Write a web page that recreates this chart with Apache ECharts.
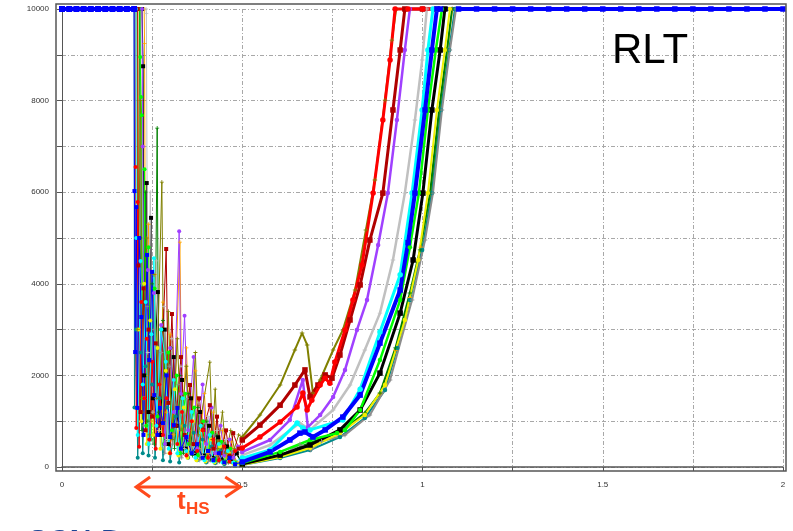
<!DOCTYPE html>
<html><head><meta charset="utf-8">
<script src="https://cdn.jsdelivr.net/npm/echarts@6/dist/echarts.min.js"></script>
<style>html,body{margin:0;padding:0;background:#fff}#c{width:793px;height:531px}</style>
</head><body><div id="c"></div>
<script>
// ---------- axis ticks ----------
const X_TICKS = [0, 0.25, 0.5, 0.75, 1, 1.25, 1.5, 1.75, 2];
const X_LABELS = ['0', '', '0.5', '', '1', '', '1.5', '', '2'];
const Y_TICKS = [0, 1000, 2000, 3000, 4000, 5000, 6000, 7000, 8000, 9000, 10000];
const Y_LABELS = ['0', '', '2000', '', '4000', '', '6000', '', '8000', '', '10000'];

// ---------- series data [x, y] ----------
const blueHead = [[0,10000],[0.02,10000],[0.04,10000],[0.06,10000],[0.08,10000],[0.1,10000],[0.12,10000],[0.14,10000],[0.16,10000],[0.18,10000],[0.2,10000]];
const blueNoise = [[0.2,10000],[0.201,6025],[0.203,2510],[0.206,5675],[0.209,1290],[0.214,5000],[0.22,3275],[0.226,700],[0.236,4630],[0.242,2335],[0.25,4260],[0.256,1570],[0.265,700],[0.272,1290],[0.28,960],[0.29,2000],[0.3,655],[0.31,915],[0.32,1290],[0.33,400],[0.345,655],[0.36,300],[0.375,500],[0.39,200],[0.405,350],[0.42,150],[0.435,300],[0.45,100],[0.465,200],[0.48,60],[0.5,110]];
const blueRise = [[0.5,110],[0.577,330],[0.632,590],[0.66,740],[0.674,765],[0.696,655],[0.73,810],[0.779,1090],[0.827,1570],[0.882,2705],[0.938,3865],[0.96,4900],[0.979,5980],[1.007,7795],[1.026,9105],[1.04,10000],[1.05,10000],[1.1,10000],[1.15,10000],[1.2,10000],[1.25,10000],[1.3,10000],[1.35,10000],[1.4,10000],[1.45,10000],[1.5,10000],[1.55,10000],[1.6,10000],[1.65,10000],[1.7,10000],[1.75,10000],[1.8,10000],[1.85,10000],[1.9,10000],[1.95,10000],[2,10000]];

const redNoise = [[0.203,10000],[0.204,6550],[0.206,850],[0.21,5785],[0.214,440],[0.22,3600],[0.228,1500],[0.235,2800],[0.242,600],[0.25,2300],[0.26,400],[0.27,1800],[0.28,700],[0.29,1500],[0.3,300],[0.31,1900],[0.32,500],[0.333,1200],[0.345,250],[0.36,1000],[0.375,350],[0.39,800],[0.405,200],[0.42,600],[0.435,150],[0.45,450],[0.465,120],[0.48,350],[0.5,415]];
const redRise = [[0.5,415],[0.549,655],[0.605,980],[0.652,1310],[0.668,1615],[0.68,1245],[0.693,1460],[0.716,1790],[0.73,1940],[0.743,1830],[0.757,2290],[0.785,2990],[0.807,3645],[0.832,4410],[0.863,5980],[0.89,7575],[0.91,8885],[0.924,10000],[0.96,10000],[1.0,10000],[1.04,10000]];

const darkredNoise = [[0.21,10000],[0.212,4400],[0.218,1200],[0.226,3900],[0.232,800],[0.24,3000],[0.25,1100],[0.26,2700],[0.27,900],[0.289,4760],[0.295,1400],[0.305,3340],[0.315,900],[0.33,2400],[0.34,700],[0.355,1790],[0.365,500],[0.38,1500],[0.392,810],[0.41,1350],[0.42,400],[0.43,1100],[0.44,300],[0.455,800],[0.465,250],[0.475,740],[0.49,400],[0.5,590]];
const darkredRise = [[0.5,590],[0.549,915],[0.605,1350],[0.646,1790],[0.674,2120],[0.688,1530],[0.71,1790],[0.73,2010],[0.749,1940],[0.771,2445],[0.799,3210],[0.827,3975],[0.854,4955],[0.89,5980],[0.918,7795],[0.938,9105],[0.951,10000],[1.0,10000],[1.04,10000]];

const purpleNoise = [[0.222,10000],[0.224,7000],[0.228,1500],[0.238,4300],[0.244,600],[0.255,3800],[0.262,900],[0.275,3100],[0.285,500],[0.3,2600],[0.31,1200],[0.325,5150],[0.33,1600],[0.34,3300],[0.35,800],[0.365,2400],[0.375,400],[0.39,1800],[0.4,500],[0.415,1300],[0.425,300],[0.44,900],[0.45,250],[0.465,600],[0.475,200],[0.488,450],[0.5,330]];
const purpleRise = [[0.5,330],[0.577,590],[0.632,1025],[0.668,1900],[0.682,870],[0.716,1135],[0.752,1530],[0.785,2120],[0.818,2990],[0.846,3645],[0.877,4845],[0.904,5980],[0.929,7575],[0.951,9105],[0.965,10000],[1.0,10000],[1.04,10000]];

const orangeNoise = [[0.228,10000],[0.229,9250],[0.232,2000],[0.24,5300],[0.248,1000],[0.258,4200],[0.268,800],[0.28,3600],[0.29,1200],[0.3,2900],[0.31,700],[0.327,4910],[0.333,900],[0.345,2600],[0.355,500],[0.37,2100],[0.38,400],[0.395,1600],[0.405,300],[0.42,1200],[0.43,250],[0.445,800],[0.455,200],[0.47,550],[0.48,150],[0.5,70]];
const orangeRise = [[0.5,70],[0.605,240],[0.688,470],[0.771,720],[0.84,1150],[0.882,1600],[0.925,2550],[0.965,3700],[0.995,4800],[1.022,5980],[1.047,7795],[1.069,9105],[1.083,10000]];

const oliveNoise = [[0.208,10000],[0.21,3000],[0.218,8000],[0.224,1200],[0.235,5000],[0.242,700],[0.255,4200],[0.262,1500],[0.277,6220],[0.283,1000],[0.295,3400],[0.305,600],[0.32,2800],[0.33,800],[0.345,2200],[0.355,500],[0.37,2500],[0.378,700],[0.41,2290],[0.417,600],[0.425,1700],[0.432,400],[0.445,1200],[0.455,300],[0.468,800],[0.478,400],[0.49,700],[0.5,655]];
const oliveRise = [[0.5,655],[0.549,1135],[0.605,1790],[0.646,2555],[0.666,2925],[0.68,2665],[0.696,1615],[0.716,1900],[0.752,2555],[0.779,2990],[0.813,3865],[0.843,5175],[0.868,6265],[0.896,8010],[0.915,9320],[0.927,10000]];

const silverNoise = [[0.233,10000],[0.234,9900],[0.238,2500],[0.245,6000],[0.252,1200],[0.262,4500],[0.27,800],[0.283,3500],[0.292,600],[0.305,2800],[0.315,900],[0.33,2200],[0.34,400],[0.355,1800],[0.365,300],[0.38,1400],[0.39,250],[0.405,1100],[0.415,200],[0.43,800],[0.44,150],[0.455,600],[0.465,120],[0.48,400],[0.5,260]];
const silverRise = [[0.5,260],[0.577,480],[0.66,960],[0.688,810],[0.752,1245],[0.799,1790],[0.84,2555],[0.882,3360],[0.918,4520],[0.951,5980],[0.979,7575],[0.999,8885],[1.012,10000],[1.04,10000]];

const cyanNoise = [[0.205,10000],[0.206,5000],[0.21,700],[0.218,4500],[0.224,1800],[0.232,3600],[0.24,500],[0.248,2900],[0.255,4560],[0.262,900],[0.275,3000],[0.288,2300],[0.296,400],[0.31,1900],[0.32,300],[0.335,1500],[0.345,350],[0.36,1200],[0.37,200],[0.385,900],[0.395,150],[0.41,700],[0.42,120],[0.435,500],[0.445,100],[0.46,350],[0.475,100],[0.5,195]];
const cyanRise = [[0.5,195],[0.577,370],[0.652,960],[0.668,850],[0.688,810],[0.779,1025],[0.827,1700],[0.882,2950],[0.938,4200],[0.971,5980],[0.999,7795],[1.015,9105],[1.029,10000],[1.04,10000]];

const limeNoise = [[0.216,10000],[0.217,8950],[0.219,8080],[0.221,7680],[0.224,1500],[0.229,6500],[0.234,900],[0.24,4800],[0.247,600],[0.257,3900],[0.265,1100],[0.275,3000],[0.283,500],[0.295,2500],[0.305,800],[0.318,2000],[0.328,300],[0.342,1600],[0.352,500],[0.367,1300],[0.377,250],[0.392,1000],[0.402,200],[0.417,750],[0.427,150],[0.442,550],[0.452,120],[0.467,400],[0.48,100],[0.5,85]];
const limeRise = [[0.5,85],[0.605,330],[0.688,590],[0.763,740],[0.785,810],[0.827,1245],[0.882,2335],[0.938,3645],[0.965,4800],[0.99,5980],[1.015,7795],[1.037,9105],[1.054,10000]];

const blackNoise = [[0.222,10000],[0.225,8750],[0.228,2000],[0.235,6200],[0.24,1200],[0.247,5440],[0.252,1500],[0.266,3820],[0.272,700],[0.285,3000],[0.295,500],[0.31,2400],[0.318,900],[0.333,1900],[0.343,400],[0.358,1500],[0.368,300],[0.383,1200],[0.393,250],[0.408,900],[0.418,200],[0.433,650],[0.443,150],[0.458,450],[0.47,120],[0.485,300],[0.5,65]];
const blackRise = [[0.5,65],[0.605,260],[0.688,480],[0.771,810],[0.827,1245],[0.882,2050],[0.938,3360],[0.974,4520],[1.001,5980],[1.026,7795],[1.049,9105],[1.062,10000]];

const yellowNoise = [[0.21,10000],[0.212,3000],[0.22,1000],[0.228,4000],[0.235,500],[0.245,3200],[0.253,700],[0.265,2600],[0.273,400],[0.288,2100],[0.298,300],[0.313,1700],[0.323,250],[0.338,1300],[0.348,200],[0.363,1000],[0.373,150],[0.388,800],[0.398,120],[0.413,600],[0.423,100],[0.438,450],[0.448,80],[0.463,300],[0.475,70],[0.5,45]];
const yellowRise = [[0.5,45],[0.605,220],[0.688,415],[0.771,740],[0.84,1135],[0.896,1790],[0.951,3210],[0.988,4520],[1.015,5980],[1.04,7795],[1.062,9105],[1.076,10000]];

const darkgreenNoise = [[0.215,10000],[0.217,5000],[0.222,800],[0.232,6000],[0.238,1000],[0.25,4000],[0.256,500],[0.264,7400],[0.268,1200],[0.28,3200],[0.29,600],[0.303,2600],[0.312,400],[0.327,2000],[0.337,300],[0.352,1600],[0.362,250],[0.377,1300],[0.387,200],[0.402,1000],[0.412,150],[0.427,700],[0.437,120],[0.452,500],[0.462,100],[0.477,350],[0.5,85]];
const darkgreenRise = [[0.5,85],[0.605,260],[0.688,525],[0.771,765],[0.84,1180],[0.882,1615],[0.925,2600],[0.965,3800],[0.993,4740],[1.021,5980],[1.046,7795],[1.068,9105],[1.082,10000]];

const tealNoise = [[0.2,10000],[0.201,1300],[0.205,3000],[0.21,200],[0.218,2500],[0.224,300],[0.232,2200],[0.24,250],[0.25,1800],[0.258,200],[0.27,1500],[0.28,150],[0.292,1300],[0.3,120],[0.315,1100],[0.325,100],[0.34,900],[0.35,200],[0.365,750],[0.375,150],[0.39,600],[0.4,100],[0.415,450],[0.425,80],[0.44,350],[0.45,60],[0.465,250],[0.48,50],[0.5,45]];
const tealRise = [[0.5,45],[0.605,195],[0.688,370],[0.771,655],[0.84,1070],[0.896,1680],[0.93,2600],[0.965,3645],[0.999,4740],[1.026,5980],[1.051,7795],[1.074,9105],[1.09,10000]];

const greyNoise = [[0.218,10000],[0.22,4000],[0.226,900],[0.236,3500],[0.243,500],[0.255,3000],[0.262,700],[0.276,2500],[0.285,300],[0.298,2200],[0.307,500],[0.322,1800],[0.332,200],[0.347,1500],[0.357,300],[0.372,1200],[0.382,150],[0.397,950],[0.407,120],[0.422,700],[0.432,100],[0.447,500],[0.457,80],[0.472,350],[0.485,100],[0.5,65]];
const greyRise = [[0.5,65],[0.605,220],[0.66,500],[0.69,370],[0.72,560],[0.785,700],[0.854,1135],[0.91,1900],[0.971,3645],[1.007,4955],[1.029,5980],[1.054,7795],[1.076,9105],[1.093,10000]];

// ---------- styles (draw order: first = bottom) ----------
const PLUS = 'path://M4,0H6V4H10V6H6V10H4V6H0V4H4Z';
const STYLES = [
  {name:'orange',    color:'#ffa500', symbol:PLUS,     w:1.5, noise:orangeNoise,    rise:orangeRise},
  {name:'teal',      color:'#008b8b', symbol:'circle', w:2,   noise:tealNoise,      rise:tealRise},
  {name:'darkgreen', color:'#008000', symbol:PLUS,     w:2,   noise:darkgreenNoise, rise:darkgreenRise},
  {name:'grey',      color:'#8c8c8c', symbol:PLUS,     w:2,   noise:greyNoise,      rise:greyRise},
  {name:'yellow',    color:'#f0f000', symbol:'circle', w:2,   noise:yellowNoise,    rise:yellowRise},
  {name:'black',     color:'#000000', symbol:'rect',   w:3,   noise:blackNoise,     rise:blackRise},
  {name:'lime',      color:'#00ff00', symbol:'circle', w:2.5, noise:limeNoise,      rise:limeRise},
  {name:'silver',    color:'#c0c0c0', symbol:PLUS,     w:2.5, noise:silverNoise,    rise:silverRise},
  {name:'purple',    color:'#a040ff', symbol:'circle', w:2.5, noise:purpleNoise,    rise:purpleRise},
  {name:'olive',     color:'#808000', symbol:PLUS,     w:2,   noise:oliveNoise,     rise:oliveRise},
  {name:'darkred',   color:'#b00000', symbol:'rect',   w:3,   noise:darkredNoise,   rise:darkredRise},
  {name:'red',       color:'#ff0000', symbol:'circle', w:3,   noise:redNoise,       rise:redRise},
  {name:'cyan',      color:'#00ffff', symbol:'circle', w:3,   noise:cyanNoise,      rise:cyanRise},
  {name:'blue',      color:'#0000ff', symbol:'rect',   w:4,   noise:blueNoise,      rise:blueRise, head:blueHead}
];

const series = [];
STYLES.forEach(s => {
  const base = {type:'line', clip:false, symbol:s.symbol, animation:false,
    itemStyle:{color:s.color}, emphasis:{disabled:true}};
  series.push(Object.assign({}, base, {name:s.name+'-noise', data:s.noise, symbolSize:4,
    lineStyle:{color:s.color, width:1}}));
  series.push(Object.assign({}, base, {name:s.name+'-rise', data:s.rise,
    symbolSize: s.w >= 3 ? 5.5 : 4.5, lineStyle:{color:s.color, width:s.w}}));
  if (s.head) series.push(Object.assign({}, base, {name:s.name+'-head', data:s.head, symbolSize:6,
    lineStyle:{color:s.color, width:s.w}}));
});

const chart = echarts.init(document.getElementById('c'), null, {renderer:'canvas'});
const gridLine = {show:true, lineStyle:{color:'#a8a8a8', width:1, type:[4,2,1,2]}};
chart.setOption({
  animation:false,
  backgroundColor:'#ffffff',
  grid:{left:62, right:10, top:9, bottom:64, containLabel:false},
  xAxis:{type:'value', min:X_TICKS[0], max:X_TICKS[X_TICKS.length-1], interval:0.25, offset:7,
    axisLine:{show:true, lineStyle:{color:'#555', width:1.5}},
    axisTick:{show:true, inside:false, length:4, lineStyle:{color:'#555'}},
    axisLabel:{margin:7, fontSize:8, color:'#333', fontFamily:'Liberation Sans',
      formatter: v => { const i = X_TICKS.findIndex(t => Math.abs(t - v) < 1e-9); return i >= 0 ? X_LABELS[i] : ''; }},
    splitLine:gridLine},
  yAxis:{type:'value', min:Y_TICKS[0], max:Y_TICKS[Y_TICKS.length-1], interval:1000, offset:6,
    axisLine:{show:true, lineStyle:{color:'#555', width:1}},
    axisTick:{show:true, inside:false, length:5, lineStyle:{color:'#555'}},
    axisLabel:{margin:7, fontSize:8, color:'#333', fontFamily:'Liberation Sans',
      formatter: v => { const i = Y_TICKS.indexOf(v); return i >= 0 ? Y_LABELS[i] : ''; }},
    splitLine:gridLine},
  series: series
});

// ---------- annotations ----------
const pa = chart.convertToPixel({gridIndex:0}, [0.2, 0]);
const pb = chart.convertToPixel({gridIndex:0}, [0.5, 0]);
const ay = pa[1] + 20;
const arrowStyle = {stroke:'#ff4a1c', lineWidth:3, fill:null};
chart.setOption({graphic:[
  {type:'rect', shape:{x:56, y:4, width:730, height:467}, style:{stroke:'#555', lineWidth:1.5, fill:null}, z:100, silent:true},
  {type:'line', shape:{x1:pa[0]+2, y1:ay, x2:pb[0]-2, y2:ay}, style:arrowStyle, z:110},
  {type:'polyline', shape:{points:[[pa[0]+16, ay-10],[pa[0]+2, ay],[pa[0]+16, ay+10]]}, style:arrowStyle, z:110},
  {type:'polyline', shape:{points:[[pb[0]-17, ay-10],[pb[0]-2, ay],[pb[0]-17, ay+10]]}, style:arrowStyle, z:110},
  {type:'text', x:177, y:489, style:{text:'t', fill:'#ff4a1c', font:'bold 26px "Liberation Sans", Arial, sans-serif', textVerticalAlign:'top'}, z:110},
  {type:'text', x:186, y:501, style:{text:'HS', fill:'#ff4a1c', font:'bold 17px "Liberation Sans", Arial, sans-serif', textVerticalAlign:'top'}, z:110},
  {type:'text', x:612, y:30, style:{text:'RLT', fill:'#000', font:'42px "Liberation Sans", Arial, sans-serif', textVerticalAlign:'top'}, z:110},
  {type:'text', x:28, y:527, style:{text:'SCN-D', fill:'#1c4595', font:'bold 30px "Liberation Sans", Arial, sans-serif', textVerticalAlign:'top'}, z:110}
]});
</script>
</body></html>
